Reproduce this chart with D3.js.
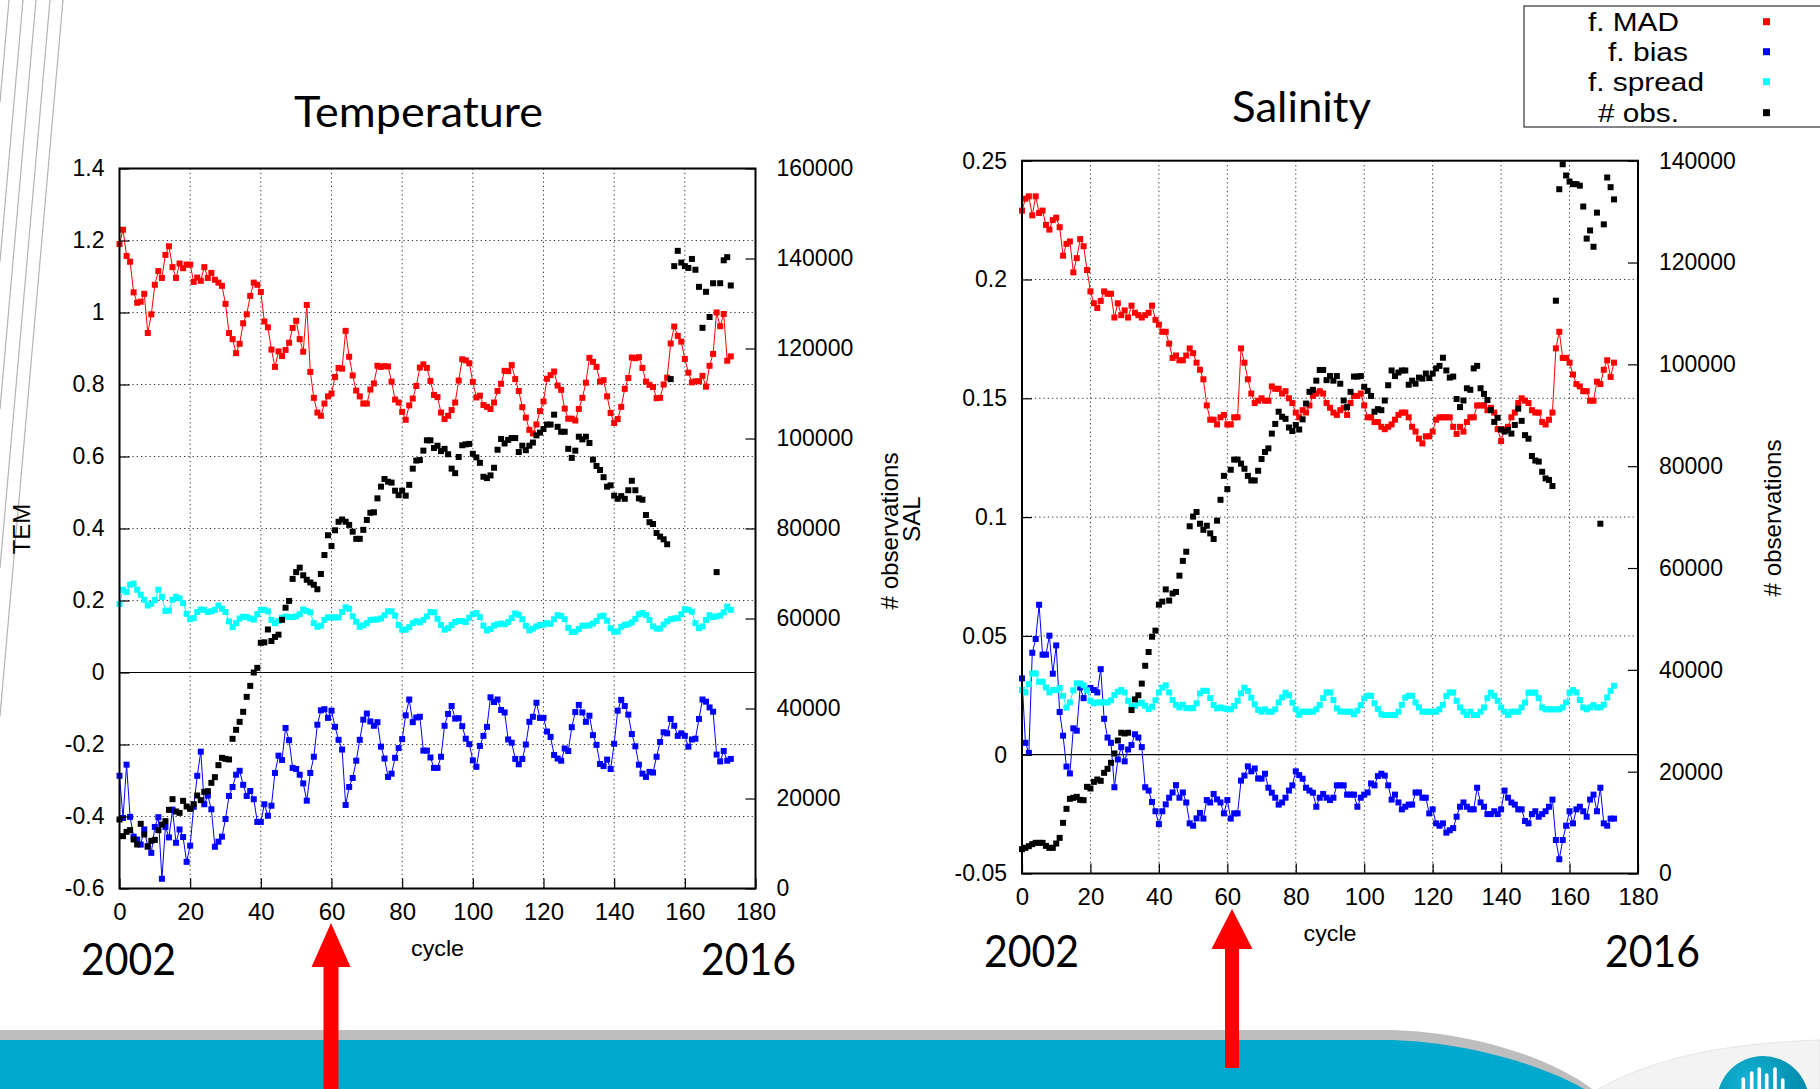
<!DOCTYPE html>
<html>
<head>
<meta charset="utf-8">
<script src="https://cdn.jsdelivr.net/npm/d3@7"></script>
<style>
  html, body { margin: 0; padding: 0; background: #fff; overflow: hidden; }
  svg { display: block; }
</style>
</head>
<body>
<svg id="chart" width="1820" height="1089"></svg>
<script>
// ---- axis ticks ----
const cycleTicks = [0, 20, 40, 60, 80, 100, 120, 140, 160, 180];
const temTicks = [-0.6, -0.4, -0.2, 0, 0.2, 0.4, 0.6, 0.8, 1, 1.2, 1.4];
const temObsTicks = [0, 20000, 40000, 60000, 80000, 100000, 120000, 140000, 160000];
const salTicks = [-0.05, 0, 0.05, 0.1, 0.15, 0.2, 0.25];
const salObsTicks = [0, 20000, 40000, 60000, 80000, 100000, 120000, 140000];

// ---- legend ----
const seriesNames = ["f. MAD", "f. bias", "f. spread", "# obs."];
const seriesColors = ["#ff0000", "#0000ff", "#00ffff", "#000000"];

// ---- Temperature, one value per cycle (cycle = index) ----
const temMAD = [1.19,1.23,1.157,1.141,1.056,1.027,1.030,1.052,0.943,0.995,
1.077,1.115,1.096,1.160,1.184,1.126,1.096,1.136,1.123,1.133,
1.133,1.085,1.097,1.088,1.126,1.096,1.110,1.091,1.083,1.074,
1.024,0.943,0.926,0.887,0.913,0.970,0.995,1.046,1.083,1.077,
1.057,0.975,0.959,0.897,0.849,0.892,0.879,0.896,0.916,0.957,
0.977,0.926,0.891,1.021,0.835,0.763,0.722,0.713,0.747,0.767,
0.775,0.821,0.846,0.844,0.949,0.877,0.825,0.783,0.767,0.747,
0.747,0.786,0.803,0.852,0.849,0.851,0.850,0.808,0.758,0.750,
0.724,0.702,0.742,0.761,0.796,0.847,0.856,0.846,0.810,0.771,
0.765,0.722,0.704,0.713,0.729,0.750,0.811,0.870,0.867,0.859,
0.807,0.764,0.769,0.743,0.738,0.732,0.750,0.782,0.802,0.838,
0.837,0.854,0.815,0.782,0.737,0.708,0.674,0.664,0.689,0.726,
0.753,0.816,0.826,0.836,0.797,0.785,0.733,0.705,0.705,0.700,
0.732,0.763,0.805,0.874,0.863,0.849,0.808,0.812,0.767,0.721,
0.693,0.704,0.738,0.788,0.818,0.875,0.873,0.876,0.846,0.808,
0.799,0.793,0.762,0.763,0.800,0.819,0.914,0.961,0.935,0.919,
0.871,0.833,0.806,0.809,0.809,0.824,0.794,0.852,0.885,1.000,
0.962,0.996,0.866,0.878];

const temBias = [-0.287,-0.404,-0.256,-0.401,-0.456,-0.464,-0.478,-0.436,-0.483,-0.501,
-0.429,-0.402,-0.573,-0.429,-0.458,-0.381,-0.473,-0.436,-0.457,-0.526,
-0.481,-0.373,-0.287,-0.220,-0.366,-0.342,-0.380,-0.484,-0.470,-0.456,
-0.407,-0.343,-0.318,-0.284,-0.273,-0.312,-0.343,-0.329,-0.352,-0.415,
-0.415,-0.366,-0.398,-0.370,-0.279,-0.231,-0.243,-0.154,-0.188,-0.265,
-0.268,-0.284,-0.308,-0.356,-0.279,-0.234,-0.145,-0.105,-0.102,-0.126,
-0.106,-0.151,-0.187,-0.214,-0.368,-0.318,-0.293,-0.245,-0.187,-0.131,
-0.114,-0.136,-0.148,-0.138,-0.206,-0.239,-0.290,-0.281,-0.237,-0.210,
-0.185,-0.119,-0.075,-0.138,-0.125,-0.123,-0.217,-0.217,-0.236,-0.265,
-0.265,-0.234,-0.148,-0.115,-0.093,-0.128,-0.127,-0.149,-0.184,-0.199,
-0.244,-0.262,-0.204,-0.176,-0.151,-0.069,-0.082,-0.075,-0.104,-0.111,
-0.186,-0.195,-0.240,-0.255,-0.240,-0.200,-0.137,-0.123,-0.084,-0.126,
-0.126,-0.164,-0.179,-0.229,-0.239,-0.245,-0.211,-0.218,-0.152,-0.110,
-0.090,-0.111,-0.137,-0.120,-0.174,-0.201,-0.254,-0.260,-0.242,-0.268,
-0.198,-0.106,-0.076,-0.093,-0.117,-0.171,-0.205,-0.256,-0.281,-0.290,
-0.276,-0.278,-0.234,-0.193,-0.166,-0.169,-0.129,-0.148,-0.176,-0.169,
-0.176,-0.206,-0.186,-0.184,-0.129,-0.075,-0.081,-0.097,-0.109,-0.228,
-0.247,-0.218,-0.245,-0.240];

const temSpread = [0.190,0.230,0.224,0.244,0.247,0.230,0.216,0.202,0.186,0.191,
0.201,0.230,0.210,0.171,0.172,0.202,0.210,0.206,0.193,0.163,
0.148,0.151,0.168,0.175,0.174,0.168,0.170,0.174,0.186,0.177,
0.168,0.142,0.126,0.137,0.150,0.155,0.154,0.150,0.147,0.162,
0.174,0.174,0.170,0.146,0.137,0.143,0.152,0.155,0.154,0.154,
0.156,0.162,0.175,0.171,0.167,0.137,0.127,0.130,0.146,0.153,
0.153,0.153,0.153,0.168,0.181,0.177,0.156,0.141,0.127,0.131,
0.137,0.146,0.147,0.147,0.150,0.159,0.170,0.170,0.158,0.132,
0.119,0.119,0.126,0.137,0.142,0.139,0.146,0.156,0.168,0.167,
0.149,0.132,0.119,0.123,0.132,0.140,0.143,0.143,0.140,0.152,
0.162,0.165,0.154,0.130,0.117,0.121,0.130,0.134,0.136,0.134,
0.140,0.151,0.164,0.160,0.148,0.130,0.117,0.122,0.128,0.132,
0.133,0.137,0.135,0.148,0.159,0.157,0.148,0.124,0.113,0.113,
0.121,0.130,0.130,0.131,0.136,0.143,0.156,0.158,0.144,0.123,
0.113,0.114,0.127,0.132,0.134,0.139,0.149,0.162,0.165,0.160,
0.146,0.128,0.122,0.122,0.133,0.142,0.148,0.150,0.151,0.162,
0.176,0.174,0.169,0.137,0.123,0.128,0.146,0.159,0.154,0.156,
0.158,0.167,0.183,0.174];

const temObs = [15330,11630,12590,12960,10890,9780,14370,12000,9330,10590,
10810,12960,14220,14960,17480,19850,17110,16810,19480,18220,
17700,18740,20670,19630,21480,21630,23480,24740,27410,29040,
28810,28670,33260,35260,37040,39260,42590,45030,48000,49030,
54600,54700,57560,55000,55900,56400,59700,62400,63900,68800,
70300,71300,69600,68600,68000,67500,66500,69900,74100,78500,
76100,79600,81500,82000,81500,80800,79300,77700,77700,79700,
81900,83500,83600,86700,89300,91000,90400,90200,88400,87400,
88400,87300,89700,93300,95100,95200,97300,99600,99600,97900,
98400,97200,97700,96500,93300,92300,95900,98500,98700,98800,
96600,95800,94600,91500,91200,91800,93500,97500,99900,98900,
99700,100100,100100,97000,98400,97400,98400,99100,100700,101300,
102100,103100,103100,105300,102600,101500,101500,97700,95700,97300,
100400,99800,100400,99000,95300,93900,93000,91400,89300,89600,
87300,86600,87200,86600,88500,90600,88500,86700,86400,83000,
81400,81000,79000,78200,77600,76500,113200,138300,141700,139100,
138300,137900,139900,137500,133700,124600,132600,127000,134500,70300,
134500,139600,140300,134000];

// ---- Salinity, one value per cycle (cycle = index) ----
const salMAD = [0.229,0.234,0.235,0.227,0.235,0.228,0.229,0.223,0.221,0.225,
0.226,0.222,0.210,0.215,0.216,0.203,0.209,0.217,0.214,0.204,
0.195,0.190,0.188,0.191,0.195,0.194,0.194,0.184,0.190,0.185,
0.187,0.184,0.189,0.186,0.185,0.184,0.185,0.186,0.189,0.183,
0.181,0.178,0.178,0.173,0.167,0.168,0.166,0.166,0.168,0.171,
0.169,0.165,0.162,0.158,0.147,0.141,0.141,0.139,0.142,0.143,
0.139,0.139,0.142,0.142,0.171,0.165,0.158,0.152,0.148,0.149,
0.150,0.149,0.149,0.155,0.154,0.154,0.152,0.153,0.150,0.148,
0.144,0.142,0.145,0.144,0.147,0.151,0.152,0.153,0.152,0.148,
0.146,0.144,0.143,0.145,0.146,0.143,0.148,0.151,0.151,0.152,
0.147,0.142,0.142,0.140,0.140,0.138,0.137,0.138,0.139,0.141,
0.143,0.144,0.144,0.142,0.138,0.136,0.133,0.131,0.134,0.134,
0.136,0.141,0.142,0.142,0.142,0.142,0.138,0.135,0.138,0.136,
0.140,0.142,0.142,0.147,0.147,0.147,0.145,0.146,0.144,0.137,
0.132,0.137,0.138,0.142,0.144,0.148,0.150,0.149,0.148,0.145,
0.144,0.144,0.140,0.139,0.141,0.144,0.171,0.178,0.167,0.167,
0.165,0.160,0.156,0.155,0.153,0.153,0.149,0.149,0.157,0.156,
0.162,0.166,0.159,0.165];

const salBias = [0.0321,0.0050,0.0008,0.0429,0.0487,0.0631,0.0421,0.0421,0.0501,0.0341,
0.0460,0.0180,0.0080,-0.0050,-0.0079,0.0111,0.0101,0.0283,0.0238,0.0272,
0.0281,0.0272,0.0262,0.0360,0.0151,0.0072,0.0050,-0.0137,-0.0020,0.0032,
-0.0028,0.0022,0.0041,0.0086,0.0072,0.0032,-0.0137,-0.0151,-0.0199,-0.0238,
-0.0292,-0.0238,-0.0209,-0.0181,-0.0159,-0.0128,-0.0181,-0.0159,-0.0201,-0.0289,
-0.0299,-0.0268,-0.0245,-0.0269,-0.0191,-0.0201,-0.0165,-0.0188,-0.0201,-0.0247,
-0.0191,-0.0269,-0.0247,-0.0247,-0.0109,-0.0088,-0.0049,-0.0070,-0.0058,-0.0100,
-0.0101,-0.0080,-0.0139,-0.0160,-0.0181,-0.0210,-0.0201,-0.0181,-0.0151,-0.0129,
-0.0070,-0.0086,-0.0101,-0.0139,-0.0151,-0.0160,-0.0219,-0.0181,-0.0165,-0.0181,
-0.0191,-0.0181,-0.0129,-0.0129,-0.0129,-0.0168,-0.0168,-0.0168,-0.0219,-0.0181,
-0.0168,-0.0159,-0.0121,-0.0129,-0.0090,-0.0080,-0.0088,-0.0129,-0.0189,-0.0168,
-0.0201,-0.0230,-0.0219,-0.0210,-0.0210,-0.0159,-0.0159,-0.0181,-0.0181,-0.0247,
-0.0230,-0.0289,-0.0299,-0.0289,-0.0328,-0.0318,-0.0309,-0.0261,-0.0219,-0.0201,
-0.0219,-0.0230,-0.0230,-0.0139,-0.0201,-0.0219,-0.0250,-0.0250,-0.0238,-0.0250,
-0.0230,-0.0151,-0.0181,-0.0201,-0.0210,-0.0230,-0.0230,-0.0279,-0.0289,-0.0250,
-0.0238,-0.0261,-0.0250,-0.0238,-0.0219,-0.0189,-0.0359,-0.0440,-0.0359,-0.0299,
-0.0238,-0.0289,-0.0230,-0.0219,-0.0238,-0.0261,-0.0189,-0.0168,-0.0238,-0.0139,
-0.0289,-0.0299,-0.0269,-0.0269];

const salSpread = [0.0272,0.0262,0.0297,0.0342,0.0342,0.0307,0.0307,0.0283,0.0262,0.0272,
0.0272,0.0281,0.0248,0.0198,0.0220,0.0271,0.0300,0.0300,0.0292,0.0271,
0.0227,0.0216,0.0220,0.0220,0.0220,0.0220,0.0229,0.0251,0.0265,0.0272,
0.0262,0.0227,0.0203,0.0205,0.0216,0.0219,0.0206,0.0192,0.0202,0.0229,
0.0262,0.0282,0.0292,0.0262,0.0230,0.0210,0.0199,0.0210,0.0196,0.0196,
0.0196,0.0216,0.0258,0.0269,0.0269,0.0238,0.0209,0.0195,0.0199,0.0195,
0.0192,0.0191,0.0205,0.0227,0.0258,0.0282,0.0268,0.0240,0.0212,0.0189,
0.0181,0.0191,0.0181,0.0181,0.0191,0.0220,0.0241,0.0261,0.0250,0.0219,
0.0191,0.0168,0.0181,0.0181,0.0181,0.0181,0.0191,0.0209,0.0238,0.0262,
0.0262,0.0230,0.0195,0.0182,0.0181,0.0181,0.0181,0.0170,0.0185,0.0209,
0.0237,0.0248,0.0248,0.0216,0.0192,0.0170,0.0167,0.0167,0.0167,0.0167,
0.0181,0.0210,0.0240,0.0248,0.0248,0.0220,0.0199,0.0181,0.0181,0.0181,
0.0181,0.0181,0.0191,0.0210,0.0247,0.0262,0.0262,0.0227,0.0199,0.0181,
0.0167,0.0181,0.0167,0.0167,0.0181,0.0199,0.0238,0.0261,0.0248,0.0227,
0.0199,0.0181,0.0167,0.0181,0.0181,0.0181,0.0199,0.0219,0.0261,0.0261,
0.0261,0.0238,0.0199,0.0191,0.0191,0.0191,0.0191,0.0191,0.0199,0.0220,
0.0261,0.0272,0.0262,0.0230,0.0199,0.0191,0.0199,0.0209,0.0199,0.0199,
0.0210,0.0241,0.0269,0.0290];

const salObs = [4780,5040,5370,5760,6020,6020,6020,5430,5040,5040,
5890,7000,9950,12700,14670,14860,15060,14470,14400,17020,
16700,18000,18460,18200,19770,20560,21740,23570,26120,27650,
27500,27650,32100,34200,35000,37300,40800,43500,46500,47700,
52800,53400,55800,53600,55000,55300,58500,61400,63200,68200,
70100,71000,68700,67500,68300,66800,65700,69300,73400,78100,
75500,79300,81300,81300,80500,79500,78100,77200,77200,79100,
81400,82800,83500,86400,88300,90700,89700,89300,87600,86900,
88100,87200,89200,92300,94600,95000,96800,98900,98900,96900,
97700,96800,97700,96200,92900,91600,94600,97600,97600,97700,
95600,94800,93800,90700,91200,91000,92900,95900,98800,97700,
98400,98800,98800,96000,96800,96200,97400,97200,98200,97300,
98200,99200,99700,101300,98800,97400,97600,93200,91600,92900,
95300,95000,99200,99700,95300,94200,93000,91000,88700,89500,
87200,86800,87100,86400,88100,91300,88900,86100,85400,82000,
81100,80900,78900,77600,77300,76100,112500,134400,139300,137100,
135900,135400,135400,135100,131000,124700,126300,123100,129800,68700,
127500,136700,134800,132400];

// ---------------------------------------------------------------
const svg = d3.select("#chart");
const GNU_FONT = "'Liberation Sans', Arial, Helvetica, sans-serif";
const SLIDE_FONT = "Lato, 'Open Sans', sans-serif";

// slide background: thin hairlines at top-left
const deco = svg.append("g");
[9, 23, 36, 50, 63].forEach(xt => {
  deco.append("line")
    .attr("x1", xt).attr("y1", 0).attr("x2", 0).attr("y2", xt / 0.088)
    .attr("stroke", "#b4b4b4").attr("stroke-width", 1.2);
});

// bottom banner
deco.append("path")
  .attr("d", "M0,1030 H1385 C1450,1030 1540,1050 1592,1089 H0 Z")
  .attr("fill", "#bebebe");
deco.append("path")
  .attr("d", "M0,1040 H1385 C1445,1040 1530,1058 1584,1089 H0 Z")
  .attr("fill", "#00a9cd");
deco.append("path")
  .attr("d", "M1598,1089 C1650,1060 1720,1043 1820,1040 V1089 Z")
  .attr("fill", "#f3f3f3").attr("stroke", "#e6e6e6").attr("stroke-width", 1);

// logo badge
const defs = svg.append("defs");
const grad = defs.append("radialGradient").attr("id", "badge").attr("cx", "35%").attr("cy", "30%").attr("r", "75%");
grad.append("stop").attr("offset", "0%").attr("stop-color", "#12b6d8");
grad.append("stop").attr("offset", "100%").attr("stop-color", "#00809f");
deco.append("circle").attr("cx", 1763).attr("cy", 1102).attr("r", 46).attr("fill", "url(#badge)");
[[1743.3, 1079], [1751.7, 1073], [1759.3, 1069], [1766.7, 1075], [1775, 1069], [1782.7, 1080]].forEach(([bx, by]) => {
  deco.append("line").attr("x1", bx).attr("x2", bx).attr("y1", by).attr("y2", 1092)
    .attr("stroke", "#fff").attr("stroke-width", 3.6).attr("stroke-linecap", "round");
});

// ---------------------------------------------------------------
function drawPanel(p) {
  const x = d3.scaleLinear().domain([0, 180]).range([p.left, p.right]);
  const y = d3.scaleLinear().domain(p.yDomain).range([p.bottom, p.top]);
  const y2 = d3.scaleLinear().domain([0, p.obsMax]).range([p.bottom, p.top]);
  const g = svg.append("g");

  // dotted grid
  g.append("g").selectAll("line")
    .data(cycleTicks.filter(t => t > 0 && t < 180)).join("line")
    .attr("x1", d => x(d)).attr("x2", d => x(d))
    .attr("y1", p.top).attr("y2", p.bottom)
    .attr("stroke", "#3a3a3a").attr("stroke-width", 1).attr("stroke-dasharray", "1.3,3");
  g.append("g").selectAll("line")
    .data(p.yTicks.filter(t => t !== 0 && t > p.yDomain[0] && t < p.yDomain[1])).join("line")
    .attr("x1", p.left).attr("x2", p.right)
    .attr("y1", d => y(d)).attr("y2", d => y(d))
    .attr("stroke", "#3a3a3a").attr("stroke-width", 1).attr("stroke-dasharray", "1.3,3");

  // zero axis
  g.append("line")
    .attr("x1", p.left).attr("x2", p.right).attr("y1", y(0)).attr("y2", y(0))
    .attr("stroke", "#000").attr("stroke-width", 1.2);

  // lines + points
  const lineGen = d3.line().x((d, i) => x(i)).y(d => y(d));
  const S = 6;
  [[p.mad, seriesColors[0]], [p.bias, seriesColors[1]], [p.spread, seriesColors[2]]].forEach(([vals, col]) => {
    g.append("path").attr("d", lineGen(vals))
      .attr("fill", "none").attr("stroke", col).attr("stroke-width", 1);
    g.append("g").selectAll("rect").data(vals).join("rect")
      .attr("x", (d, i) => x(i) - S / 2).attr("y", d => y(d) - S / 2)
      .attr("width", S).attr("height", S).attr("fill", col);
  });
  g.append("g").selectAll("rect").data(p.obs).join("rect")
    .attr("x", (d, i) => x(i) - S / 2).attr("y", d => y2(d) - S / 2)
    .attr("width", S).attr("height", S).attr("fill", seriesColors[3]);

  // frame
  g.append("rect")
    .attr("x", p.left).attr("y", p.top)
    .attr("width", p.right - p.left).attr("height", p.bottom - p.top)
    .attr("fill", "none").attr("stroke", "#000").attr("stroke-width", 2);

  // axes (inward ticks, gnuplot style)
  const styleAxis = size => sel => {
    sel.select(".domain").remove();
    sel.selectAll(".tick line").attr("stroke", "#000").attr("stroke-width", 1.2);
    sel.selectAll("text").attr("fill", "#000");
    sel.attr("font-family", GNU_FONT).attr("font-size", size);
  };
  g.append("g").attr("transform", `translate(0,${p.bottom})`)
    .call(d3.axisBottom(x).tickValues(cycleTicks).tickSize(-10).tickPadding(14).tickFormat(d => String(d)))
    .call(styleAxis(24));
  g.append("g").attr("transform", `translate(${p.left},0)`)
    .call(d3.axisLeft(y).tickValues(p.yTicks).tickSize(-10).tickPadding(15).tickFormat(d => String(d)))
    .call(styleAxis(23));
  g.append("g").attr("transform", `translate(${p.right},0)`)
    .call(d3.axisRight(y2).tickValues(p.obsTicks).tickSize(-10).tickPadding(21).tickFormat(d => String(d)))
    .call(styleAxis(23));

  // x label
  g.append("text").attr("x", (p.left + p.right) / 2).attr("y", p.cycleY)
    .attr("text-anchor", "middle").attr("font-family", GNU_FONT).attr("font-size", 22)
    .attr("textLength", 53).attr("lengthAdjust", "spacingAndGlyphs")
    .text("cycle");

  // title
  g.append("text").attr("x", p.titleX).attr("y", p.titleY)
    .attr("font-family", SLIDE_FONT).attr("font-size", 42)
    .attr("textLength", p.titleW).attr("lengthAdjust", "spacingAndGlyphs")
    .text(p.title);

  // year annotations under the axis
  [[p.yearL, "2002"], [p.yearR, "2016"]].forEach(([xs, t]) => {
    g.append("text").attr("x", xs).attr("y", p.yearY)
      .attr("font-family", SLIDE_FONT).attr("font-size", 45)
      .attr("textLength", 95).attr("lengthAdjust", "spacingAndGlyphs")
      .text(t);
  });
}

function vLabel(cx, cy, txt, len) {
  const t = svg.append("text")
    .attr("transform", `translate(${cx},${cy}) rotate(-90)`)
    .attr("text-anchor", "middle").attr("dy", "0.35em")
    .attr("font-family", GNU_FONT).attr("font-size", 24)
    .text(txt);
  if (len) t.attr("textLength", len).attr("lengthAdjust", "spacingAndGlyphs");
}

drawPanel({
  left: 119.5, right: 755.5, top: 168.5, bottom: 888.5,
  yDomain: [-0.6, 1.4], yTicks: temTicks, obsMax: 160000, obsTicks: temObsTicks,
  mad: temMAD, bias: temBias, spread: temSpread, obs: temObs,
  title: "Temperature", titleX: 294, titleY: 127, titleW: 249,
  cycleY: 956, yearL: 81, yearR: 701, yearY: 975
});

drawPanel({
  left: 1022, right: 1638, top: 160.7, bottom: 873.5,
  yDomain: [-0.05, 0.25], yTicks: salTicks, obsMax: 140000, obsTicks: salObsTicks,
  mad: salMAD, bias: salBias, spread: salSpread, obs: salObs,
  title: "Salinity", titleX: 1232, titleY: 121.5, titleW: 139,
  cycleY: 941, yearL: 984, yearR: 1605, yearY: 967
});

// rotated axis titles
vLabel(22, 529, "TEM");
vLabel(890, 531, "# observations", 157);
vLabel(912, 519, "SAL");
vLabel(1773, 518, "# observations", 157);

// key box
const key = svg.append("g");
key.append("rect").attr("x", 1524).attr("y", 6).attr("width", 310).attr("height", 121)
  .attr("fill", "#fff").attr("stroke", "#333").attr("stroke-width", 1.2);
const keyLayout = [[1588, 31, 91], [1608, 61, 80], [1588, 90.5, 116], [1598, 121.5, 81]];
const keyMarkY = [21.7, 51.7, 81.7, 112.7];
seriesNames.forEach((name, i) => {
  const [kx, ky, kw] = keyLayout[i];
  key.append("text").attr("x", kx).attr("y", ky)
    .attr("font-family", GNU_FONT).attr("font-size", 25)
    .attr("textLength", kw).attr("lengthAdjust", "spacingAndGlyphs")
    .text(name);
  key.append("rect").attr("x", 1766.5 - 3.5).attr("y", keyMarkY[i] - 3.5)
    .attr("width", 7).attr("height", 7).attr("fill", seriesColors[i]);
});

// red pointer arrows at cycle 60
function arrow(cx, tip, base, halfHead, halfShaft, end) {
  svg.append("path")
    .attr("d", `M${cx},${tip} L${cx + halfHead},${base} L${cx + halfShaft},${base} L${cx + halfShaft},${end} ` +
               `L${cx - halfShaft},${end} L${cx - halfShaft},${base} L${cx - halfHead},${base} Z`)
    .attr("fill", "#ff0000");
}
arrow(331, 923, 967, 19.5, 7.5, 1089);
arrow(1232, 909, 949, 20.5, 7, 1068);
</script>
</body>
</html>
